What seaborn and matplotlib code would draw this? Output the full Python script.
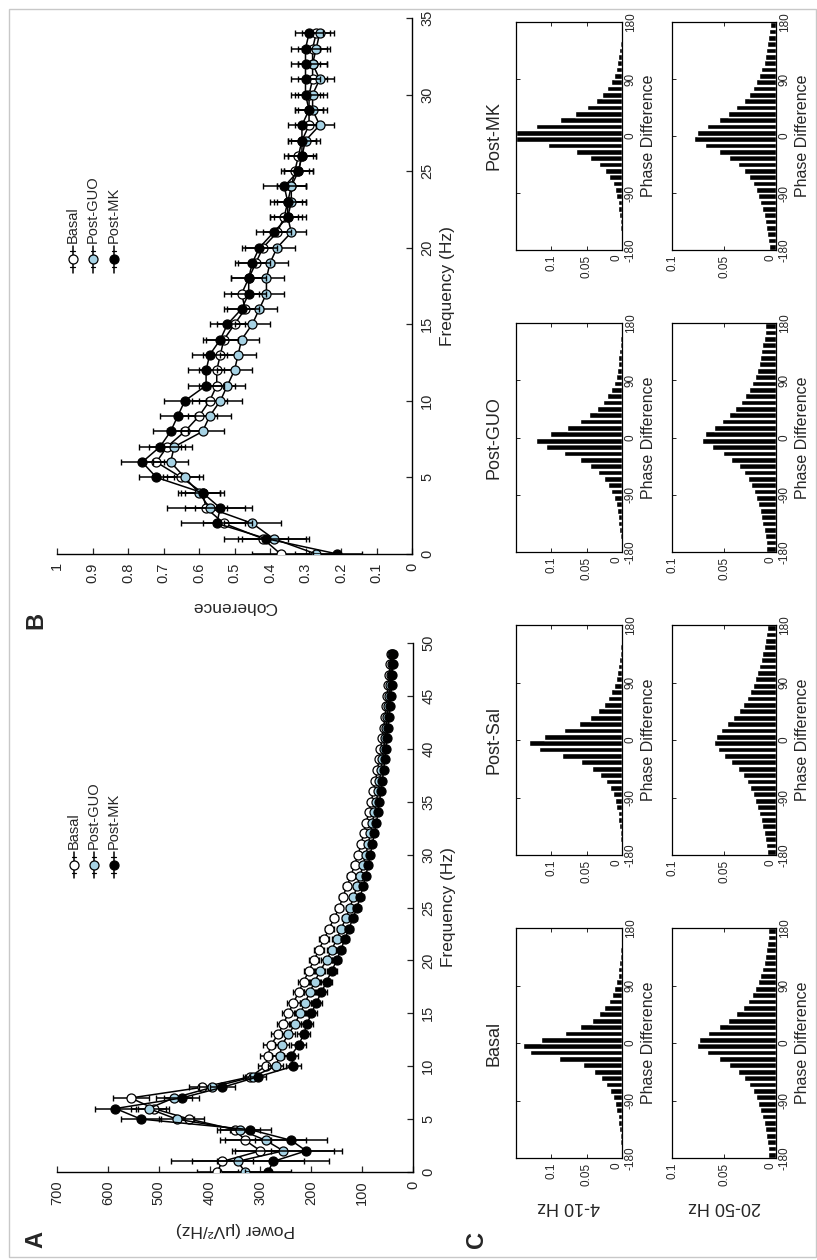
import pandas as pd
import matplotlib
matplotlib.use("Agg")
import matplotlib.pyplot as plt
from matplotlib.patches import Rectangle
import seaborn as sns

# --- データ ---
conditions = ['Basal', 'Post-GUO', 'Post-MK']
face_colors = ['white', '#a6d2e4', 'black']

# A: パワースペクトル (0-49 Hz)
freq_power = list(range(0, 50))
power_basal = [385, 375, 300, 330, 350, 440, 510, 555, 415, 320,
               290, 285, 280, 265, 255, 245, 235, 225, 215, 205,
               195, 185, 175, 165, 155, 145, 138, 130, 122, 115,
               108, 102, 97, 92, 87, 82, 78, 74, 70, 67,
               64, 61, 58, 55, 53, 51, 49, 47, 45, 43]
power_guo = [330, 345, 255, 290, 340, 465, 520, 470, 395, 315,
             270, 262, 258, 245, 232, 222, 212, 203, 193, 183,
             170, 160, 150, 141, 132, 124, 117, 110, 104, 98,
             93, 88, 84, 80, 76, 72, 69, 66, 63, 60,
             58, 55, 53, 51, 49, 47, 45, 44, 42, 41]
power_mk = [285, 275, 210, 240, 320, 535, 585, 455, 375, 305,
            235, 240, 225, 215, 208, 200, 190, 180, 170, 160,
            150, 142, 134, 126, 118, 110, 104, 98, 93, 88,
            84, 80, 76, 72, 69, 66, 63, 60, 58, 55,
            53, 51, 49, 47, 45, 44, 42, 41, 40, 39]
power_basal_err = [40, 60, 50, 50, 35, 30, 30, 35, 25, 15,
                   15, 15, 15, 14, 13, 12, 12, 11, 11, 10,
                   10, 10, 9, 9, 8, 8, 7, 7, 7, 6,
                   6, 6, 5, 5, 5, 5, 4, 4, 4, 4,
                   4, 3, 3, 3, 3, 3, 3, 3, 3, 3]
power_guo_err = [50, 130, 100, 80, 40, 35, 35, 35, 25, 15,
                 15, 15, 14, 13, 12, 12, 11, 11, 10, 10,
                 10, 9, 9, 8, 8, 7, 7, 7, 6, 6,
                 6, 5, 5, 5, 5, 4, 4, 4, 4, 4,
                 3, 3, 3, 3, 3, 3, 3, 3, 3, 3]
power_mk_err = [45, 110, 70, 70, 40, 40, 40, 35, 25, 15,
                15, 14, 14, 13, 12, 12, 11, 11, 10, 10,
                9, 9, 8, 8, 7, 7, 7, 6, 6, 6,
                5, 5, 5, 5, 4, 4, 4, 4, 4, 3,
                3, 3, 3, 3, 3, 3, 3, 3, 3, 3]

# B: コヒーレンス (0-34 Hz)
freq_coh = list(range(0, 35))
coh_basal = [0.37, 0.42, 0.53, 0.58, 0.59, 0.65, 0.72, 0.69, 0.64, 0.60,
             0.57, 0.55, 0.55, 0.54, 0.53, 0.50, 0.47, 0.48, 0.46, 0.44,
             0.42, 0.38, 0.36, 0.35, 0.34, 0.33, 0.32, 0.31, 0.29, 0.29,
             0.29, 0.28, 0.28, 0.28, 0.27]
coh_guo = [0.27, 0.39, 0.45, 0.57, 0.60, 0.64, 0.68, 0.67, 0.59, 0.57,
           0.54, 0.52, 0.50, 0.49, 0.48, 0.45, 0.43, 0.41, 0.41, 0.40,
           0.38, 0.34, 0.35, 0.34, 0.34, 0.32, 0.31, 0.30, 0.26, 0.28,
           0.28, 0.26, 0.28, 0.27, 0.26]
coh_mk = [0.21, 0.41, 0.55, 0.54, 0.59, 0.72, 0.76, 0.71, 0.68, 0.66,
          0.64, 0.58, 0.58, 0.57, 0.54, 0.52, 0.48, 0.46, 0.46, 0.45,
          0.43, 0.39, 0.35, 0.35, 0.36, 0.32, 0.31, 0.31, 0.31, 0.29,
          0.30, 0.30, 0.30, 0.30, 0.29]
coh_basal_err = [0.08, 0.07, 0.06, 0.06, 0.05, 0.05, 0.05, 0.05, 0.05, 0.05,
                 0.05, 0.05, 0.05, 0.05, 0.05, 0.05, 0.05, 0.05, 0.05, 0.05,
                 0.05, 0.04, 0.04, 0.04, 0.04, 0.04, 0.04, 0.04, 0.04, 0.04,
                 0.04, 0.04, 0.04, 0.04, 0.04]
coh_guo_err = [0.06, 0.09, 0.08, 0.12, 0.06, 0.05, 0.05, 0.05, 0.06, 0.06,
               0.06, 0.05, 0.05, 0.05, 0.05, 0.05, 0.05, 0.05, 0.05, 0.05,
               0.05, 0.04, 0.04, 0.04, 0.04, 0.04, 0.04, 0.04, 0.04, 0.04,
               0.04, 0.04, 0.04, 0.04, 0.04]
coh_mk_err = [0.07, 0.12, 0.10, 0.07, 0.06, 0.05, 0.06, 0.06, 0.05, 0.05,
              0.06, 0.05, 0.05, 0.05, 0.05, 0.05, 0.05, 0.05, 0.05, 0.05,
              0.05, 0.05, 0.05, 0.05, 0.06, 0.04, 0.04, 0.04, 0.04, 0.04,
              0.04, 0.04, 0.04, 0.04, 0.04]

# C: 位相差ヒストグラム (10度ビン)
hist_titles = ['Basal', 'Post-Sal', 'Post-GUO', 'Post-MK']
bands = ['4-10 Hz', '20-50 Hz']
phase_bins = list(range(-175, 180, 10))
hist_basal_4_10 = [0.002, 0.002, 0.003, 0.003, 0.004, 0.005, 0.006, 0.008, 0.010, 0.013,
                   0.017, 0.022, 0.030, 0.040, 0.055, 0.089, 0.130, 0.140, 0.114, 0.080,
                   0.059, 0.043, 0.033, 0.025, 0.019, 0.014, 0.011, 0.008, 0.006, 0.005,
                   0.004, 0.003, 0.003, 0.002, 0.002, 0.002]
hist_sal_4_10 = [0.002, 0.002, 0.003, 0.003, 0.004, 0.005, 0.006, 0.008, 0.010, 0.013,
                 0.017, 0.023, 0.031, 0.042, 0.058, 0.085, 0.118, 0.132, 0.110, 0.082,
                 0.061, 0.045, 0.034, 0.026, 0.020, 0.015, 0.011, 0.009, 0.007, 0.005,
                 0.004, 0.003, 0.003, 0.002, 0.002, 0.002]
hist_guo_4_10 = [0.002, 0.002, 0.003, 0.004, 0.005, 0.006, 0.007, 0.009, 0.012, 0.015,
                 0.020, 0.026, 0.034, 0.045, 0.060, 0.082, 0.108, 0.122, 0.102, 0.078,
                 0.060, 0.046, 0.035, 0.027, 0.021, 0.016, 0.012, 0.009, 0.007, 0.006,
                 0.005, 0.004, 0.003, 0.003, 0.002, 0.002]
hist_mk_4_10 = [0.001, 0.002, 0.002, 0.003, 0.003, 0.004, 0.005, 0.006, 0.008, 0.010,
                0.013, 0.018, 0.024, 0.033, 0.045, 0.065, 0.105, 0.150, 0.150, 0.122,
                0.088, 0.066, 0.049, 0.037, 0.028, 0.021, 0.016, 0.012, 0.009, 0.007,
                0.005, 0.004, 0.003, 0.002, 0.002, 0.001]
hist_basal_20_50 = [0.008, 0.008, 0.009, 0.010, 0.011, 0.012, 0.013, 0.015, 0.017, 0.019,
                    0.022, 0.026, 0.031, 0.037, 0.045, 0.055, 0.066, 0.076, 0.074, 0.065,
                    0.055, 0.046, 0.038, 0.032, 0.027, 0.023, 0.020, 0.017, 0.015, 0.013,
                    0.012, 0.011, 0.010, 0.009, 0.008, 0.008]
hist_sal_20_50 = [0.009, 0.010, 0.011, 0.012, 0.013, 0.014, 0.016, 0.018, 0.020, 0.022,
                  0.025, 0.028, 0.032, 0.037, 0.043, 0.050, 0.056, 0.060, 0.058, 0.053,
                  0.047, 0.041, 0.036, 0.032, 0.028, 0.025, 0.022, 0.020, 0.018, 0.016,
                  0.014, 0.013, 0.012, 0.011, 0.010, 0.009]
hist_guo_20_50 = [0.010, 0.010, 0.011, 0.012, 0.013, 0.014, 0.015, 0.017, 0.019, 0.021,
                  0.024, 0.027, 0.031, 0.036, 0.043, 0.051, 0.062, 0.071, 0.068, 0.060,
                  0.052, 0.045, 0.039, 0.034, 0.030, 0.026, 0.023, 0.020, 0.018, 0.016,
                  0.015, 0.014, 0.013, 0.012, 0.011, 0.011]
hist_mk_20_50 = [0.007, 0.008, 0.009, 0.010, 0.011, 0.012, 0.013, 0.015, 0.017, 0.019,
                 0.022, 0.026, 0.031, 0.037, 0.045, 0.055, 0.068, 0.079, 0.076, 0.066,
                 0.055, 0.046, 0.038, 0.031, 0.026, 0.022, 0.019, 0.016, 0.014, 0.012,
                 0.011, 0.010, 0.009, 0.008, 0.007, 0.006]

# --- スタイル ---
sns.set_style('white')
plt.rcParams['font.family'] = ['Liberation Sans', 'DejaVu Sans']
plt.rcParams['axes.unicode_minus'] = False
plt.rcParams['font.size'] = 10

W, H = 817, 1260
fig = plt.figure(figsize=(W / 100, H / 100), dpi=100)


def px_axes(x0, y0, x1, y1):
    # 画像ピクセル座標 (左上原点) から axes を作る
    return fig.add_axes([x0 / W, 1 - y1 / H, (x1 - x0) / W, (y1 - y0) / H])


def draw_spectrum(ax, freqs, values, errors, legend_x, legend_dx, legend_y, legend_len):
    for i, (name, vals, errs, fc) in enumerate(zip(conditions, values, errors, face_colors)):
        z = 3 + i
        ax.errorbar(vals, freqs, xerr=errs, fmt='none', ecolor='black',
                    elinewidth=1.1, capsize=2, capthick=1.0, zorder=z)
        df = pd.DataFrame({'value': vals, 'freq': freqs})
        sns.lineplot(data=df, x='value', y='freq', orient='y', ax=ax, color='black',
                     lw=1.1, marker='o', markersize=6.5, markerfacecolor=fc,
                     markeredgecolor='black', markeredgewidth=0.9, errorbar=None, zorder=z)
        # 回転した凡例を手描き
        lx = legend_x + i * legend_dx
        ax.plot([lx, lx], [legend_y - legend_len, legend_y + legend_len], transform=ax.transAxes,
                color='black', lw=1.1, clip_on=False)
        ax.plot([lx - 0.006, lx + 0.006], [legend_y - legend_len * 0.6] * 2,
                transform=ax.transAxes, color='black', lw=0.9, clip_on=False)
        ax.plot([lx - 0.006, lx + 0.006], [legend_y + legend_len * 0.6] * 2,
                transform=ax.transAxes, color='black', lw=0.9, clip_on=False)
        ax.plot([lx], [legend_y], transform=ax.transAxes, marker='o', ms=6.5,
                mfc=fc, mec='black', mew=0.9, clip_on=False)
        ax.text(lx, legend_y + legend_len + 0.006, name, transform=ax.transAxes, rotation=90,
                ha='center', va='bottom', fontsize=10.5)


def style_spectrum(ax, xlim, xticks, xticklabels, ylim, yticks, xlabel):
    ax.set_xlim(*xlim)
    ax.set_ylim(*ylim)
    ax.set_xticks(xticks)
    ax.set_xticklabels(xticklabels)
    ax.set_yticks(yticks)
    ax.set_yticklabels([str(t) for t in yticks])
    ax.yaxis.tick_right()
    ax.yaxis.set_label_position('right')
    for s in ['left', 'top']:
        ax.spines[s].set_visible(False)
    for s in ['right', 'bottom']:
        ax.spines[s].set_linewidth(1.0)
        ax.spines[s].set_color('black')
    ax.tick_params(direction='in', length=4, width=0.9, labelsize=10.5, pad=6,
                   bottom=True, right=True, left=False, top=False)
    ax.tick_params(axis='x', labelrotation=90)
    ax.tick_params(axis='y', labelrotation=90)
    for lbl in ax.get_yticklabels():
        lbl.set_va('center')
    ax.set_xlabel(xlabel, rotation=180, fontsize=12.5, labelpad=12)
    ax.set_ylabel('Frequency (Hz)', rotation=90, fontsize=12.5, labelpad=4)


# --- A ---
axA = px_axes(57, 643, 413, 1172)
draw_spectrum(axA, freq_power, [power_basal, power_guo, power_mk],
              [power_basal_err, power_guo_err, power_mk_err], 0.047, 0.056, 0.58, 0.025)
style_spectrum(axA, (700, 0), list(range(0, 701, 100)),
               [str(t) for t in range(0, 701, 100)], (0, 50), list(range(0, 51, 5)),
               'Power (μV²/Hz)')

# --- B ---
axB = px_axes(57, 18, 412, 554)
draw_spectrum(axB, freq_coh, [coh_basal, coh_guo, coh_mk],
              [coh_basal_err, coh_guo_err, coh_mk_err], 0.044, 0.058, 0.55, 0.025)
coh_ticks = [0, 0.1, 0.2, 0.3, 0.4, 0.5, 0.6, 0.7, 0.8, 0.9, 1]
style_spectrum(axB, (1, 0), coh_ticks, ['0', '0.1', '0.2', '0.3', '0.4', '0.5',
                                         '0.6', '0.7', '0.8', '0.9', '1'],
               (0, 35), list(range(0, 36, 5)), 'Coherence')

# --- C ---
hists = {
    ('Basal', '4-10 Hz'): hist_basal_4_10, ('Post-Sal', '4-10 Hz'): hist_sal_4_10,
    ('Post-GUO', '4-10 Hz'): hist_guo_4_10, ('Post-MK', '4-10 Hz'): hist_mk_4_10,
    ('Basal', '20-50 Hz'): hist_basal_20_50, ('Post-Sal', '20-50 Hz'): hist_sal_20_50,
    ('Post-GUO', '20-50 Hz'): hist_guo_20_50, ('Post-MK', '20-50 Hz'): hist_mk_20_50,
}
band_x = {'4-10 Hz': (516, 622), '20-50 Hz': (672, 776)}
band_lim = {'4-10 Hz': 0.15, '20-50 Hz': 0.1}
title_y = {'Basal': (928, 1158), 'Post-Sal': (625, 855),
           'Post-GUO': (323, 552), 'Post-MK': (22, 250)}

for title in hist_titles:
    for band in bands:
        x0, x1 = band_x[band]
        y0, y1 = title_y[title]
        ax = px_axes(x0, y0, x1, y1)
        df = pd.DataFrame({'prob': hists[(title, band)], 'phase': phase_bins})
        sns.barplot(data=df, x='prob', y='phase', orient='h', native_scale=True,
                    color='black', saturation=1, width=0.9, errorbar=None, ax=ax)
        ax.set_xlim(band_lim[band], 0)
        ax.set_ylim(-180, 180)
        ax.set_xticks([0, 0.05, 0.1])
        ax.set_xticklabels(['0', '0.05', '0.1'])
        ax.set_yticks([-180, -90, 0, 90, 180])
        ax.set_yticklabels(['-180', '-90', '0', '90', '180'])
        ax.tick_params(direction='in', length=3, width=0.7, labelsize=8.5, pad=3.5,
                       left=True, right=True, top=True, bottom=True,
                       labelleft=False, labelright=True, labelbottom=True, labeltop=False)
        ax.tick_params(axis='y', pad=2)
        ax.tick_params(axis='x', labelrotation=90)
        ax.tick_params(axis='y', labelrotation=90)
        for lbl in ax.get_yticklabels():
            lbl.set_va('center')
        # 角の "0" を "-180" と重ならないよう左へ寄せる
        ax.get_xticklabels()[0].set_ha('right')
        for s in ax.spines.values():
            s.set_linewidth(0.9)
            s.set_color('black')
        ax.yaxis.set_label_position('right')
        ax.set_ylabel('Phase Difference', rotation=90, fontsize=11.5, labelpad=3)
        if title == 'Basal':
            ax.set_xlabel(band, rotation=180, fontsize=13, labelpad=9)
        else:
            ax.set_xlabel('')
        if band == '4-10 Hz':
            ax.text(-0.21, 0.5, title, transform=ax.transAxes, rotation=90,
                    ha='center', va='center', fontsize=13)

# パネル記号と外枠
fig.text(36 / W, 1 - 1240 / H, 'A', rotation=90, fontsize=17, fontweight='bold',
         ha='center', va='center')
fig.text(36 / W, 1 - 620 / H, 'B', rotation=90, fontsize=17, fontweight='bold',
         ha='center', va='center')
fig.text(476 / W, 1 - 1240 / H, 'C', rotation=90, fontsize=17, fontweight='bold',
         ha='center', va='center')
fig.add_artist(Rectangle((9 / W, 3 / H), (W - 10) / W, (H - 12) / H,
                         transform=fig.transFigure, fill=False,
                         edgecolor='#c8c8c8', lw=1))

fig.savefig('out.png', dpi=100)
